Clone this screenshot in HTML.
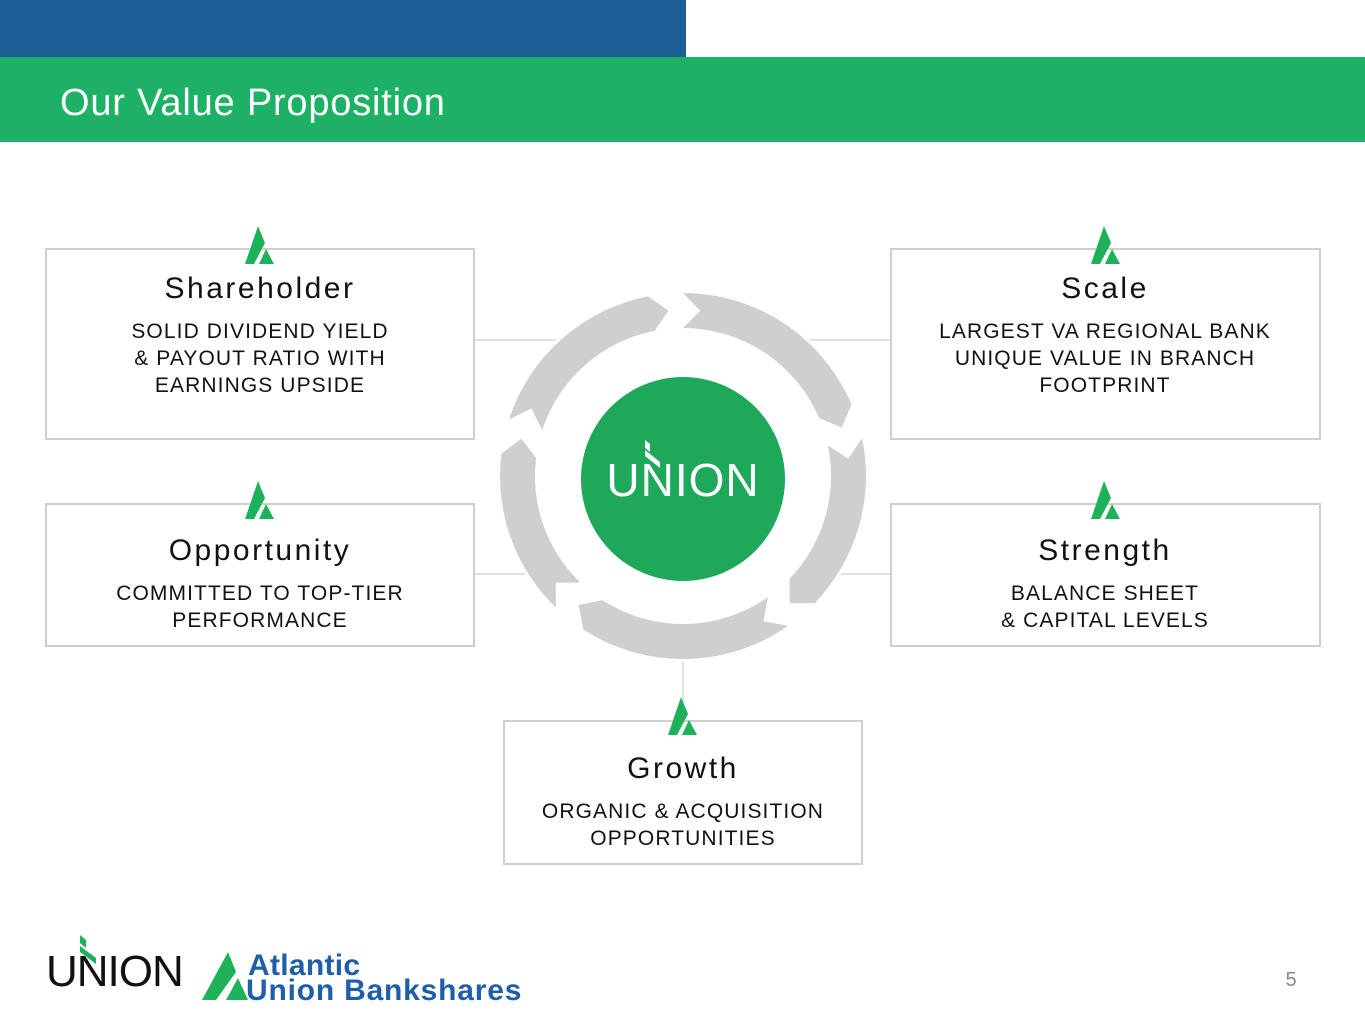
<!DOCTYPE html>
<html><head><meta charset="utf-8"><style>
html,body{margin:0;padding:0;background:#fff;}
svg{display:block;}
text{font-family:"Liberation Sans",Arial,sans-serif;}
</style></head><body>
<svg width="1365" height="1024" viewBox="0 0 1365 1024" xmlns="http://www.w3.org/2000/svg">
<defs>
<g id="ic">
<polygon points="0,38 13,0 20,17 9,38" fill="#1db15a"/>
<polygon points="14,38 21,23 29,38" fill="#1db15a"/>
</g>
</defs>
<rect x="0" y="0" width="686" height="57" fill="#1b5e96"/>
<rect x="0" y="57" width="1365" height="85" fill="#1db166"/>
<text x="60" y="115" font-size="38" fill="#fff" letter-spacing="0.8">Our Value Proposition</text>

<g stroke="#d0d0d0" stroke-width="1.2">
<line x1="474" y1="340" x2="891" y2="340"/>
<line x1="474" y1="574" x2="891" y2="574"/>
<line x1="683" y1="650" x2="683" y2="721"/>
</g>

<g fill="#fff" stroke="#cfcfcf" stroke-width="2">
<rect x="46" y="249" width="428" height="190"/>
<rect x="891" y="249" width="429" height="190"/>
<rect x="46" y="504" width="428" height="142"/>
<rect x="891" y="504" width="429" height="142"/>
<rect x="504" y="721" width="358" height="143"/>
</g>

<circle cx="683" cy="476" r="186" fill="#fff"/>
<g fill="#cfcfcf">
<path d="M683,293 A183,183 0 0 1 851.5,404.5 L841.7,427.5 L819.2,418.2 A148,148 0 0 0 683,328 L700.3,310.9 Z"/>
<path d="M862,438 A183,183 0 0 1 814.6,603.1 L789.7,603.2 L789.5,578.8 A148,148 0 0 0 827.8,445.2 L848.1,458.7 Z"/>
<path d="M788,625.9 A183,183 0 0 1 583.3,629.5 L578.5,605 L602.4,600.1 A148,148 0 0 0 767.9,597.2 L763.5,621.2 Z"/>
<path d="M555.9,607.6 A183,183 0 0 1 501.4,453.7 L521.3,438.6 L536.1,458 A148,148 0 0 0 580.2,582.5 L555.8,582.7 Z"/>
<path d="M509,419.5 A183,183 0 0 1 648.1,296.4 L668.5,310.6 L654.8,330.7 A148,148 0 0 0 542.2,430.3 L531.4,408.5 Z"/>
</g>
<circle cx="683" cy="479" r="102" fill="#1ea85a"/>
<text x="683" y="496" font-size="46" fill="#fff" text-anchor="middle" letter-spacing="1">UNION</text>
<g fill="#fff"><polygon points="645,440 650,444 650,452 645,448"/><polygon points="645,450 660,462 660,468 645,456"/></g>

<use href="#ic" x="245" y="226"/>
<use href="#ic" x="1091" y="226"/>
<use href="#ic" x="245" y="481"/>
<use href="#ic" x="1091" y="481"/>
<use href="#ic" x="668" y="697"/>

<g fill="#111" text-anchor="middle">
<text x="260" y="298" font-size="30" letter-spacing="2.5">Shareholder</text>
<text x="260" y="338" font-size="21" letter-spacing="1.1">SOLID DIVIDEND YIELD</text>
<text x="260" y="365" font-size="21" letter-spacing="1.1">&amp; PAYOUT RATIO WITH</text>
<text x="260" y="392" font-size="21" letter-spacing="1.1">EARNINGS UPSIDE</text>

<text x="1105" y="298" font-size="30" letter-spacing="2.5">Scale</text>
<text x="1105" y="338" font-size="21" letter-spacing="1.1">LARGEST VA REGIONAL BANK</text>
<text x="1105" y="365" font-size="21" letter-spacing="1.1">UNIQUE VALUE IN BRANCH</text>
<text x="1105" y="392" font-size="21" letter-spacing="1.1">FOOTPRINT</text>

<text x="260" y="560" font-size="30" letter-spacing="2.5">Opportunity</text>
<text x="260" y="600" font-size="21" letter-spacing="1.1">COMMITTED TO TOP-TIER</text>
<text x="260" y="627" font-size="21" letter-spacing="1.1">PERFORMANCE</text>

<text x="1105" y="560" font-size="30" letter-spacing="2.5">Strength</text>
<text x="1105" y="600" font-size="21" letter-spacing="1.1">BALANCE SHEET</text>
<text x="1105" y="627" font-size="21" letter-spacing="1.1">&amp; CAPITAL LEVELS</text>

<text x="683" y="778" font-size="30" letter-spacing="2.5">Growth</text>
<text x="683" y="818" font-size="21" letter-spacing="1.1">ORGANIC &amp; ACQUISITION</text>
<text x="683" y="845" font-size="21" letter-spacing="1.1">OPPORTUNITIES</text>
</g>

<text x="46" y="986" font-size="44" fill="#111" letter-spacing="-1">UNION</text>
<g fill="#1db15a"><polygon points="80,935 86,940 86,948 80,943"/><polygon points="80,946 96,958 96,964 80,952"/></g>
<polygon points="202,1000 228,952 236,972 216,1000" fill="#1db15a"/>
<polygon points="226,1000 238,978 248,1000" fill="#1db15a"/>
<text x="248" y="975" font-size="30" font-weight="bold" fill="#1f5fa8" letter-spacing="0.3">Atlantic</text>
<text x="246" y="1000" font-size="30" font-weight="bold" fill="#1f5fa8" letter-spacing="0.8">Union Bankshares</text>
<text x="1291" y="986" font-size="20" fill="#888" text-anchor="middle">5</text>
</svg>
</body></html>
